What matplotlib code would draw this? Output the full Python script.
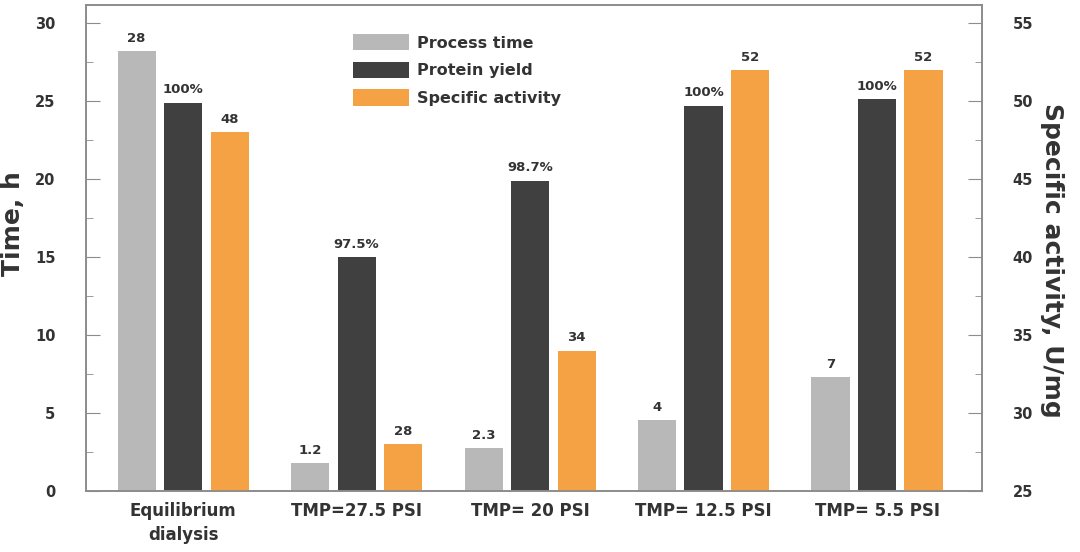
import numpy as np
import matplotlib.pyplot as plt
from matplotlib.ticker import MultipleLocator

# data
groups = ["Equilibrium\ndialysis", "TMP=27.5 PSI", "TMP= 20 PSI", "TMP= 12.5 PSI", "TMP= 5.5 PSI"]
time_h = [28.2, 1.8, 2.75, 4.55, 7.3]
time_labels = ["28", "1.2", "2.3", "4", "7"]
yield_h = [24.9, 15.0, 19.9, 24.7, 25.1]
yield_labels = ["100%", "97.5%", "98.7%", "100%", "100%"]
activity = [48, 28, 34, 52, 52]
activity_labels = ["48", "28", "34", "52", "52"]

c_gray = "#b8b8b8"
c_dark = "#404041"
c_orange = "#f5a244"
txt = "#333333"
frame = "#8c8c8c"

plt.rcParams["font.family"] = ["DejaVu Sans"]

fig = plt.figure(figsize=(10.8, 5.52), dpi=100)
ax = fig.add_axes([86 / 1080, 1 - 491 / 552, 896 / 1080, 486 / 552])
ax2 = ax.twinx()

x = np.arange(len(groups))
w = 0.22
off = 0.268

b1 = ax.bar(x - off, time_h, w, color=c_gray, label="Process time")
b2 = ax.bar(x, yield_h, w, color=c_dark, label="Protein yield")
b3 = ax2.bar(x + off, activity, w, color=c_orange, label="Specific activity")

# value labels above the bars
for rect, lab in zip(b1, time_labels):
    ax.text(rect.get_x() + rect.get_width() / 2, rect.get_height() + 0.4, lab,
            ha="center", va="bottom", fontsize=9.5, fontweight="bold", color=txt)
for rect, lab in zip(b2, yield_labels):
    ax.text(rect.get_x() + rect.get_width() / 2, rect.get_height() + 0.4, lab,
            ha="center", va="bottom", fontsize=9.5, fontweight="bold", color=txt)
for rect, lab in zip(b3, activity_labels):
    ax2.text(rect.get_x() + rect.get_width() / 2, rect.get_height() + 0.4, lab,
             ha="center", va="bottom", fontsize=9.5, fontweight="bold", color=txt)

ax.set_xlim(-0.56, 4.605)
ax.set_ylim(0, 31.15)
ax2.set_ylim(25, 56.15)

ax.set_xticks(x)
ax.set_xticklabels(groups, fontsize=12, fontweight="bold", color=txt, linespacing=1.45)
ax.tick_params(axis="x", length=0, pad=8)

for a in (ax, ax2):
    a.yaxis.set_major_locator(MultipleLocator(5))
    a.yaxis.set_minor_locator(MultipleLocator(2.5))
    a.tick_params(axis="y", which="major", direction="in", length=10, color=frame,
                  labelsize=10.5, labelcolor=txt, pad=22)
    a.tick_params(axis="y", which="minor", direction="in", length=5, color=frame)
    for s in a.spines.values():
        s.set_color(frame)
        s.set_linewidth(1.2)
for t in ax.get_yticklabels() + ax2.get_yticklabels():
    t.set_fontweight("bold")

ax.set_ylabel("Time, h", fontsize=18, fontweight="bold", color=txt)
ax.yaxis.set_label_coords(-0.068, 0.55)
ax2.set_ylabel("Specific activity, U/mg", fontsize=18, fontweight="bold", color=txt,
               rotation=270, va="center")
ax2.yaxis.set_label_coords(1.078, 0.475)

handles = [b1, b2, b3]
leg = ax.legend(handles, [h.get_label() for h in handles], loc="upper left",
                bbox_to_anchor=(0.282, 0.97), frameon=False, handlelength=3.5,
                handleheight=1.2, labelspacing=0.7, handletextpad=0.5,
                prop={"size": 11.5, "weight": "bold"})
for t in leg.get_texts():
    t.set_color(txt)

fig.savefig("out.png", dpi=100)
